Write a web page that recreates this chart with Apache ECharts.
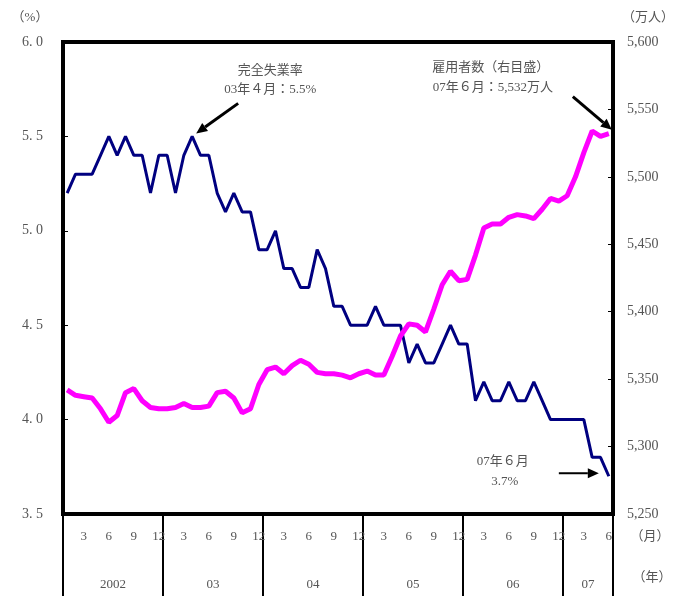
<!DOCTYPE html>
<html>
<head>
<meta charset="utf-8">
<script src="https://cdn.jsdelivr.net/npm/echarts@6/dist/echarts.min.js"></script>
<style>
  html, body { margin: 0; padding: 0; background: #fff; }
  #chart { width: 675px; height: 596px; }
</style>
</head>
<body>
<div id="chart"></div>
<script>
  // 年と各年の月数（2002年1月～2007年6月）
  const years = ['2002', '03', '04', '05', '06', '07'];
  const yearMonths = [12, 12, 12, 12, 12, 6];

  // 完全失業率（%、左目盛）
  const unemployment = [
    5.2, 5.3, 5.3, 5.3, 5.4, 5.5, 5.4, 5.5, 5.4, 5.4, 5.2, 5.4,
    5.4, 5.2, 5.4, 5.5, 5.4, 5.4, 5.2, 5.1, 5.2, 5.1, 5.1, 4.9,
    4.9, 5.0, 4.8, 4.8, 4.7, 4.7, 4.9, 4.8, 4.6, 4.6, 4.5, 4.5,
    4.5, 4.6, 4.5, 4.5, 4.5, 4.3, 4.4, 4.3, 4.3, 4.4, 4.5, 4.4,
    4.4, 4.1, 4.2, 4.1, 4.1, 4.2, 4.1, 4.1, 4.2, 4.1, 4.0, 4.0,
    4.0, 4.0, 4.0, 3.8, 3.8, 3.7
  ];

  // 雇用者数（万人、右目盛）
  const employees = [
    5342, 5338, 5337, 5336, 5328, 5318, 5323, 5340, 5343, 5334, 5329, 5328,
    5328, 5329, 5332, 5329, 5329, 5330, 5340, 5341, 5336, 5325, 5328, 5346,
    5357, 5359, 5354, 5360, 5364, 5361, 5355, 5354, 5354, 5353, 5351, 5354,
    5356, 5353, 5353, 5367, 5382, 5391, 5390, 5385, 5402, 5420, 5430, 5423,
    5424, 5442, 5462, 5465, 5465, 5470, 5472, 5471, 5469, 5476, 5484, 5482,
    5486, 5500, 5518, 5534, 5530, 5532
  ];

  // 目盛
  const rateAxis = { min: 3.5, max: 6.0, interval: 0.5 };
  const empAxis = { min: 5250, max: 5600, interval: 50 };
  const monthTicks = [3, 6, 9, 12];

  const categories = [];
  years.forEach(function (y, k) {
    for (let m = 1; m <= yearMonths[k]; m++) categories.push(y + '/' + m);
  });

  // 年ラベルの位置（各年の中央、月数単位）
  const yearMid = {};
  let acc = 0;
  years.forEach(function (y, k) {
    yearMid[acc + yearMonths[k] / 2] = y;
    acc += yearMonths[k];
  });
  // 年区切り用の半年単位の区間
  const halfYears = [];
  for (let i = 0; i < acc / 6; i++) halfYears.push(i);

  const FONT = "'Liberation Serif', 'Noto Sans CJK JP', serif";
  const GRAY = '#555';

  let chart = echarts.init(document.getElementById('chart'));
  chart.setOption({
    animation: false,
    backgroundColor: '#fff',
    grid: {
      left: 63, right: 62, top: 42, bottom: 82,
      show: true, borderColor: '#000', borderWidth: 4, backgroundColor: '#fff'
    },
    xAxis: [
      {
        type: 'category',
        data: categories,
        boundaryGap: true,
        axisLine: { lineStyle: { color: '#000', width: 4 } },
        axisTick: { show: false },
        axisLabel: {
          interval: function (i) { return monthTicks.indexOf(i % 12 + 1) >= 0; },
          formatter: function (v) { return v.split('/')[1]; },
          color: GRAY, fontFamily: FONT, fontSize: 13, margin: 16
        }
      },
      {
        type: 'value',
        position: 'bottom',
        min: 0, max: acc, interval: 3,
        axisLine: { show: false },
        axisTick: { show: false },
        splitLine: { show: false },
        axisLabel: {
          formatter: function (v) { return yearMid[v] || ''; },
          color: GRAY, fontFamily: FONT, fontSize: 13, margin: 64
        }
      },
      {
        type: 'category',
        position: 'bottom',
        data: halfYears,
        boundaryGap: true,
        axisLine: { show: false },
        axisLabel: { show: false },
        axisTick: {
          show: true,
          interval: 1,
          length: 82,
          lineStyle: { color: '#000', width: 2 }
        }
      }
    ],
    yAxis: [
      {
        type: 'value',
        min: rateAxis.min, max: rateAxis.max, interval: rateAxis.interval,
        axisLine: { show: true, lineStyle: { color: '#000', width: 4 } },
        axisTick: { show: true, inside: true, length: 5, lineStyle: { color: '#000' } },
        splitLine: { show: false },
        axisLabel: {
          formatter: function (v) { return v.toFixed(1).replace('.', '. '); },
          color: GRAY, fontFamily: FONT, fontSize: 14, margin: 20
        }
      },
      {
        type: 'value',
        position: 'right',
        min: empAxis.min, max: empAxis.max, interval: empAxis.interval,
        axisLine: { show: true, lineStyle: { color: '#000', width: 4 } },
        axisTick: { show: true, inside: true, length: 5, lineStyle: { color: '#000' } },
        splitLine: { show: false },
        axisLabel: {
          formatter: function (v) { return v.toLocaleString('en-US'); },
          color: GRAY, fontFamily: FONT, fontSize: 14, margin: 14
        }
      }
    ],
    series: [
      {
        name: '完全失業率',
        type: 'line',
        xAxisIndex: 0, yAxisIndex: 0,
        data: unemployment,
        showSymbol: false,
        lineStyle: { color: '#000080', width: 3 },
        itemStyle: { color: '#000080' }
      },
      {
        name: '雇用者数',
        type: 'line',
        xAxisIndex: 0, yAxisIndex: 1,
        data: employees,
        showSymbol: false,
        lineStyle: { color: '#ff00ff', width: 5 },
        itemStyle: { color: '#ff00ff' }
      }
    ]
  });

  // 注記（矢印と文字）をデータ点の位置から配置
  function arrow(tip, tail, w) {
    const a = Math.atan2(tip[1] - tail[1], tip[0] - tail[0]);
    const L = 11, H = 5;
    const bx = tip[0] - L * Math.cos(a), by = tip[1] - L * Math.sin(a);
    return [
      { type: 'line', shape: { x1: tail[0], y1: tail[1], x2: bx, y2: by },
        style: { stroke: '#000', lineWidth: w } },
      { type: 'polygon', shape: { points: [
          tip,
          [bx + H * Math.sin(a), by - H * Math.cos(a)],
          [bx - H * Math.sin(a), by + H * Math.cos(a)]
        ] }, style: { fill: '#000' } }
    ];
  }
  function label(x, y, text) {
    return { type: 'text', x: x, y: y,
      style: { text: text, fill: GRAY, font: '13px ' + FONT, align: 'center', verticalAlign: 'middle' } };
  }

  const last = categories.length - 1;
  const peak = chart.convertToPixel({ xAxisIndex: 0, yAxisIndex: 0 }, [categories[15], unemployment[15]]);
  const endRate = chart.convertToPixel({ xAxisIndex: 0, yAxisIndex: 0 }, [categories[last], unemployment[last]]);
  const endEmp = chart.convertToPixel({ xAxisIndex: 0, yAxisIndex: 1 }, [categories[last], employees[last]]);

  let elements = [];
  elements = elements.concat(arrow([peak[0] + 4, peak[1] - 3], [peak[0] + 46, peak[1] - 33], 3));
  elements.push(label(peak[0] + 78, peak[1] - 66, '完全失業率'));
  elements.push(label(peak[0] + 78, peak[1] - 47, '03年４月：5.5%'));

  elements = elements.concat(arrow([endEmp[0] + 3, endEmp[1] - 4], [endEmp[0] - 36, endEmp[1] - 37], 3));
  elements.push(label(endEmp[0] - 118, endEmp[1] - 66, '雇用者数（右目盛）'));
  elements.push(label(endEmp[0] - 116, endEmp[1] - 46, '07年６月：5,532万人'));

  elements = elements.concat(arrow([endRate[0] - 10, endRate[1] - 3], [endRate[0] - 50, endRate[1] - 3], 2));
  elements.push(label(endRate[0] - 106, endRate[1] - 15, '07年６月'));
  elements.push(label(endRate[0] - 104, endRate[1] + 5, '3.7%'));

  // 単位
  elements.push(label(30, 18, '（%）'));
  elements.push(label(648, 18, '（万人）'));
  elements.push(label(650, 537, '（月）'));
  elements.push(label(652, 578, '（年）'));

  chart.setOption({ graphic: elements });
</script>
</body>
</html>
